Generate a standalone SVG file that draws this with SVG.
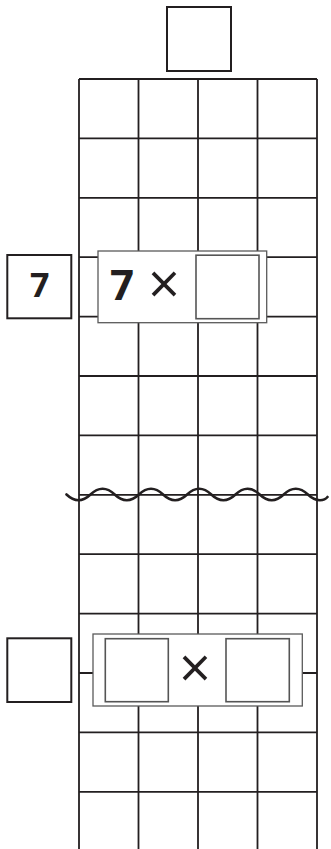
<svg xmlns="http://www.w3.org/2000/svg" width="331" height="849" viewBox="0 0 331 849">
<style>
.grid{stroke:#231f20;stroke-width:1.8;fill:none}
.box{fill:#fff;stroke:#231f20;stroke-width:2}
.frame{fill:#fff;stroke:#5a5a5a;stroke-width:1.3}
.inner{fill:#fff;stroke:#555;stroke-width:1.6}
.num{font-family:"Open Sans","Liberation Sans",sans-serif;font-weight:bold;fill:#231f20}
.times{font-family:"Open Sans","Liberation Sans",sans-serif;fill:#231f20;text-anchor:middle}
</style>
<rect width="331" height="849" fill="#fff"/>
<g id="grid" class="grid">
<path d="M79,79V849M138.5,79V849M198,79V849M257.5,79V849M317,79V849"/>
<path d="M79,79H317M79,138.4H317M79,197.8H317M79,257.2H317M79,316.6H317M79,376H317M79,435.4H317M79,494.8H317M79,554.2H317M79,613.6H317M79,673H317M79,732.4H317M79,791.8H317"/>
</g>
<g id="top-box"><rect class="box" x="167" y="7" width="64" height="64"/></g>
<g id="wave"><path d="M66.5,494.5 Q72.5,500.2 78.5,500.2 Q84.5,500.2 90.5,494.5 Q96.5,488.8 102.6,488.8 Q108.7,488.8 114.7,494.5 Q120.7,500.2 126.8,500.2 Q132.9,500.2 138.9,494.5 Q144.9,488.8 151,488.8 Q157.1,488.8 163.1,494.5 Q169.1,500.2 175.1,500.2 Q181.1,500.2 187.1,494.5 Q193.1,488.8 199.2,488.8 Q205.3,488.8 211.3,494.5 Q217.3,500.2 223.4,500.2 Q229.5,500.2 235.5,494.5 Q241.5,488.8 247.6,488.8 Q253.7,488.8 259.7,494.5 Q265.7,500.2 271.7,500.2 Q277.7,500.2 283.7,494.5 Q289.7,488.8 295.8,488.8 Q301.9,488.8 307.9,494.5 Q313.9,500.2 320,500.2 Q325,500.2 327.5,497" fill="none" stroke="#231f20" stroke-width="2.6" stroke-linecap="round"/></g>
<g id="left-box-1"><rect class="box" x="7.3" y="255" width="64" height="63.3"/><text class="num" x="30" y="296.7" font-size="34">7</text></g>
<g id="frame-1"><rect class="frame" x="98" y="251" width="168.7" height="71.7"/><text class="num" x="110" y="300" font-size="42">7</text><text class="times" x="164" y="304" font-size="56">×</text><rect class="inner" x="196" y="255.2" width="63" height="63.5"/></g>
<g id="left-box-2"><rect class="box" x="7.3" y="638.3" width="64" height="63.7"/></g>
<g id="frame-2"><rect class="frame" x="93" y="634" width="209.3" height="72"/><rect class="inner" x="105.3" y="638.7" width="63" height="63"/><text class="times" x="195" y="687.5" font-size="56">×</text><rect class="inner" x="226" y="638.7" width="63.3" height="63"/></g>
</svg>
